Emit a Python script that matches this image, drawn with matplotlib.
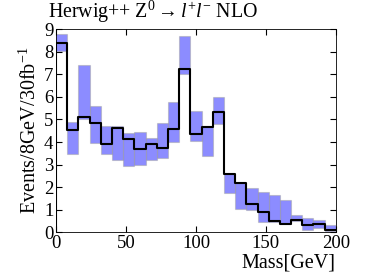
import numpy as np
import matplotlib
matplotlib.use('Agg')
import matplotlib.pyplot as plt

plt.rcParams['font.family'] = ['Liberation Serif', 'DejaVu Serif']
plt.rcParams['mathtext.fontset'] = 'custom'
plt.rcParams['mathtext.rm'] = 'Liberation Serif'
plt.rcParams['mathtext.it'] = 'Liberation Serif:italic'

bin_edges = np.arange(0, 201, 8)
central = [8.40, 4.52, 5.11, 4.85, 3.93, 4.64, 4.14, 3.68, 3.91, 3.72, 4.58, 7.23, 4.34,
           4.67, 5.34, 2.60, 2.18, 1.25, 0.89, 0.51, 0.34, 0.52, 0.31, 0.37, 0.11]
upper = [8.78, 4.89, 7.41, 5.62, 4.73, 4.70, 4.40, 4.46, 4.18, 4.85, 5.77, 8.69, 5.38,
         4.70, 6.02, 2.60, 2.18, 1.97, 1.80, 1.65, 1.44, 0.76, 0.61, 0.55, 0.31]
lower = [8.03, 3.49, 5.00, 3.96, 3.49, 3.22, 2.95, 2.98, 3.22, 3.28, 3.99, 7.01, 4.05,
         3.40, 4.82, 1.73, 1.02, 0.99, 0.43, 0.43, 0.34, 0.50, 0.11, 0.19, 0.04]

fig = plt.figure(figsize=(3.74, 2.8), dpi=100)
ax = fig.add_axes([0.150, 0.171, 0.748, 0.724])

lo = np.array(lower)
hi = np.array(upper)
ax.bar(bin_edges[:-1], hi - lo, width=8, bottom=lo, align='edge',
       facecolor=(0.0, 0.0, 1.0, 0.45), edgecolor=(0.65, 0.65, 0.65, 0.5), linewidth=0.8)

y = np.append(central, central[-1])
ax.step(bin_edges, y, where='post', color='black', linewidth=1.5)
ax.vlines(bin_edges[0], 0, central[0], color='black', linewidth=1.5)

ax.set_xlim(0, 200)
ax.set_ylim(0, 9)
ax.set_xticks([0, 50, 100, 150, 200])
ax.set_yticks(range(10))
ax.tick_params(direction='in', top=True, right=True, labelsize=13.5, length=4, pad=2)
for s in ax.spines.values():
    s.set_linewidth(0.6)

# title sits a bit left of the axes, like the original
ax.text(-0.03, 1.055, r'Herwig++ $\mathrm{Z}^0\rightarrow l^{+}l^{-}$ NLO', fontsize=14.3,
        transform=ax.transAxes, ha='left', va='baseline')
ax.set_ylabel(r'Events$/$8GeV$/$30fb$^{-1}$', fontsize=14.5, labelpad=2)
ax.set_xlabel('Mass[GeV]', fontsize=14.5, loc='right', labelpad=1)

fig.savefig('out.png', dpi=100)
